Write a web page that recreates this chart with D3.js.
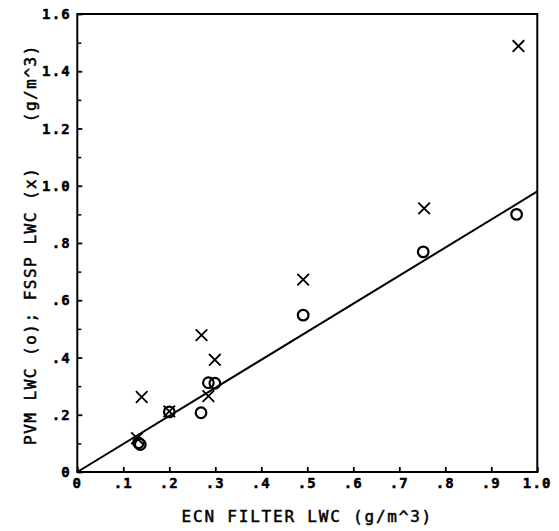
<!DOCTYPE html>
<html>
<head>
<meta charset="utf-8">
<script src="https://cdn.jsdelivr.net/npm/d3@7"></script>
<style>
  html, body { margin: 0; padding: 0; background: #fff; }
  svg { display: block; }
</style>
</head>
<body>
<script>
// ---- data ----
const pvmEcn   = [0.133, 0.137, 0.200, 0.269, 0.285, 0.299, 0.491, 0.752, 0.955];
const pvmLwc   = [0.102, 0.096, 0.210, 0.207, 0.312, 0.310, 0.548, 0.769, 0.900];
const fsspEcn  = [0.130, 0.140, 0.200, 0.270, 0.285, 0.299, 0.491, 0.754, 0.959];
const fsspLwc  = [0.118, 0.262, 0.212, 0.478, 0.265, 0.392, 0.672, 0.921, 1.488];
const fitLine  = { slope: 0.98, intercept: 0.0 };
const xTickValues = [0, 0.1, 0.2, 0.3, 0.4, 0.5, 0.6, 0.7, 0.8, 0.9, 1.0];
const xTickLabels = ["0", ".1", ".2", ".3", ".4", ".5", ".6", ".7", ".8", ".9", "1.0"];
const yTickValues = [0, 0.2, 0.4, 0.6, 0.8, 1.0, 1.2, 1.4, 1.6];
const yTickLabels = ["0", ".2", ".4", ".6", ".8", "1.0", "1.2", "1.4", "1.6"];
const yMinorValues = [0.1, 0.3, 0.5, 0.7, 0.9, 1.1, 1.3, 1.5];
const xTitle = "ECN FILTER LWC (g/m^3)";
const yTitle = "PVM LWC (o); FSSP LWC (x)    (g/m^3)";

(function () {
const W = 559, H = 531;
const mLeft = 77.3, mRight = 537.3, mTop = 14, mBottom = 472;

const svg = d3.select("body").append("svg").attr("width", W).attr("height", H);

const x = d3.scaleLinear().domain([0, 1]).range([mLeft, mRight]);
const y = d3.scaleLinear().domain([0, 1.6]).range([mBottom, mTop]);

const font = "'DejaVu Sans Mono', 'Liberation Mono', monospace";

// frame
svg.append("rect")
  .attr("x", mLeft).attr("y", mTop)
  .attr("width", mRight - mLeft).attr("height", mBottom - mTop)
  .attr("fill", "none").attr("stroke", "#000").attr("stroke-width", 2);

// x axis (ticks inward)
const xAxis = d3.axisTop(x).tickValues(xTickValues).tickSize(5).tickFormat(() => "");
const gx = svg.append("g").attr("transform", `translate(0,${mBottom})`).call(xAxis);
gx.select(".domain").remove();
gx.selectAll(".tick line").attr("stroke", "#000").attr("stroke-width", 1.8);

svg.append("g").selectAll("text").data(xTickValues).join("text")
  .attr("x", d => x(d)).attr("y", mBottom + 16)
  .attr("text-anchor", "middle")
  .attr("font-family", font).attr("font-weight", "bold").attr("font-size", 14)
  .attr("letter-spacing", 1.2)
  .attr("stroke", "#000").attr("stroke-width", 0.5)
  .text((d, i) => xTickLabels[i]);

// y axis (ticks inward)
const yAxis = d3.axisRight(y).tickValues(yTickValues).tickSize(5).tickFormat(() => "");
const gy = svg.append("g").attr("transform", `translate(${mLeft},0)`).call(yAxis);
gy.select(".domain").remove();
gy.selectAll(".tick line").attr("stroke", "#000").attr("stroke-width", 1.8);

const yMinor = d3.axisRight(y).tickValues(yMinorValues).tickSize(4).tickFormat(() => "");
const gym = svg.append("g").attr("transform", `translate(${mLeft},0)`).call(yMinor);
gym.select(".domain").remove();
gym.selectAll(".tick line").attr("stroke", "#000").attr("stroke-width", 1.5);

svg.append("g").selectAll("text").data(yTickValues).join("text")
  .attr("x", 71).attr("y", d => y(d) + 5)
  .attr("text-anchor", "end")
  .attr("font-family", font).attr("font-weight", "bold").attr("font-size", 14)
  .attr("letter-spacing", 1.2)
  .attr("stroke", "#000").attr("stroke-width", 0.5)
  .text((d, i) => yTickLabels[i]);

// titles
svg.append("text")
  .attr("x", (mLeft + mRight) / 2).attr("y", 522)
  .attr("text-anchor", "middle")
  .attr("font-family", font).attr("font-size", 16)
  .attr("letter-spacing", 1.8)
  .attr("stroke", "#000").attr("stroke-width", 0.5)
  .text(xTitle);

svg.append("text")
  .attr("transform", "translate(36,445) rotate(-90)")
  .attr("text-anchor", "start")
  .attr("font-family", font).attr("font-size", 16)
  .attr("letter-spacing", 1.5)
  .attr("stroke", "#000").attr("stroke-width", 0.5)
  .style("white-space", "pre")
  .text(yTitle);

// fit line
const lineGen = d3.line().x(d => x(d)).y(d => y(fitLine.intercept + fitLine.slope * d));
svg.append("path").datum([0, 1])
  .attr("d", lineGen)
  .attr("fill", "none").attr("stroke", "#000").attr("stroke-width", 2);

// PVM circles
svg.append("g").selectAll("circle").data(pvmEcn).join("circle")
  .attr("cx", d => x(d)).attr("cy", (d, i) => y(pvmLwc[i]))
  .attr("r", 5.3)
  .attr("fill", "none").attr("stroke", "#000").attr("stroke-width", 2.2);

// FSSP crosses
const s = 5.8;
svg.append("g").selectAll("path").data(fsspEcn).join("path")
  .attr("d", (d, i) => {
    const cx = x(d), cy = y(fsspLwc[i]);
    return `M${cx - s},${cy - s}L${cx + s},${cy + s}M${cx - s},${cy + s}L${cx + s},${cy - s}`;
  })
  .attr("fill", "none").attr("stroke", "#000").attr("stroke-width", 1.8);
})();
</script>
</body>
</html>
